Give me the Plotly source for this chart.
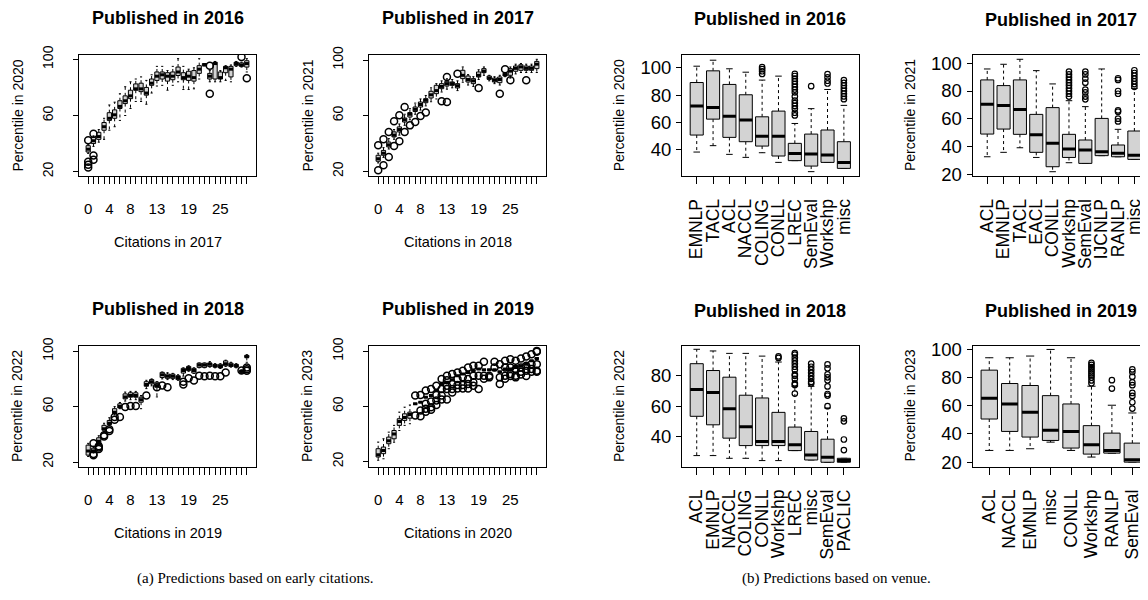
import plotly.graph_objects as go

# ---------------- data: (a) early citations ----------------
CIT_LEVELS = list(range(31))
CIT_SHOWN = [0, 4, 8, 13, 19, 25]

# Published 2016, citations in 2017 -> percentile 2020
C16_med = [36, 42, 45, 52, 58, 60.5, 66.5, 70.5, 74, 79, 79, 76, 83, 88, 89, 88, 88, 91, 87, 88, 87, 93, 96, 88, 97, 87, 94, 93, 97, 96, 97]
C16_q1 = [34, 40, 43, 49.5, 56.5, 58, 65, 68.5, 72, 78, 77, 74.5, 81.5, 85, 86, 84.5, 85.5, 88.5, 85.5, 85, 84.5, 90, 95.5, 86, 86, 86, 90.5, 87.5, 95.5, 95, 94.5]
C16_q3 = [38.5, 44.5, 48, 55, 62, 64, 70.5, 74, 78, 82.5, 83, 80, 86, 91, 91, 90.5, 91, 94.5, 90.5, 91.5, 92, 95.5, 97, 90, 98, 91, 95, 95, 98, 97.5, 99]
C16_lo = [33, 38, 41, 43, 49.5, 52, 56.5, 60, 65, 70, 70, 68, 76, 81, 81.5, 78, 81.5, 84, 78.5, 78.5, 79, 86, 95.5, 84, 84, 84, 85, 84, 95, 94.5, 91]
C16_hi = [39.5, 45.5, 50, 58, 67.5, 69.5, 75.5, 80.5, 84, 86, 87.5, 85, 89, 95, 95, 92, 95, 100.5, 95, 93, 94, 100.5, 97, 92, 98.5, 92, 95.5, 96, 98.5, 98, 100.5]
C16_out = [[42.3, 27, 25, 23], [47, 31.5, 28.5], [], [], [], [], [], [], [], [], [], [], [], [], [], [], [], [], [], [], [], [], [], [95.5, 75.5], [], [], [], [], [], [101.7], [86.5]]

# Published 2017, citations in 2018 -> percentile 2021
C17_med = [29, 33, 39, 46, 50, 57, 61, 64.5, 68, 71, 75, 78, 81, 83, 83, 81.5, 89, 86, 85, 89, 92, 87, 85.5, 86, 89.5, 92, 94, 95, 94, 94, 97]
C17_q1 = [27.2, 31.5, 37.5, 44.7, 48.3, 55.4, 59, 63, 66.2, 69.3, 72.7, 75.8, 79.4, 81.3, 81.8, 79.9, 86.6, 84.2, 83, 87.8, 90.9, 86.1, 84.2, 83.7, 88.5, 89, 91.9, 92.6, 92.6, 92.6, 93.8]
C17_q3 = [31.5, 35, 41, 48.3, 51.9, 58.3, 62.2, 66.2, 69.8, 72.2, 77.5, 81.8, 83, 84.7, 84.2, 83, 92.6, 88.5, 86.6, 91.4, 93.8, 88.5, 87, 87.8, 90.5, 93.8, 95.7, 96.6, 95.7, 95.7, 99]
C17_lo = [26, 30, 36, 43, 46, 53, 57, 61, 64, 67, 70, 72, 77, 79, 80, 78, 84, 82, 81, 86, 89, 85, 83, 82, 88, 87, 90, 91, 91, 91, 91]
C17_hi = [33, 37, 43.5, 50, 54, 61, 65, 69, 72, 74.5, 80, 83, 85, 86.5, 86, 85, 95, 89.5, 88, 93, 95, 89, 88, 89, 91, 95, 97, 97.5, 97, 97, 100.5]
C17_out = [[38.7, 20.7], [43, 24.3], [48.3, 30.3], [56, 38.2], [60.2, 41.6], [66.2, 48.3], [53], [55.4], [59.8], [62.2], [], [], [70.3], [69.8, 87.8], [], [90.2], [], [], [], [79.9], [], [], [], [75.8], [93.3], [85.4], [], [], [85.4], [], []]

# Published 2018, citations in 2019 -> percentile 2022
C18_med = [28, 28, 35, 44, 48, 56, 60, 67, 68, 68, 65, 76, 78, 75, 83, 82, 82, 81, 86, 87.5, 86, 90, 90, 90.5, 89.5, 89, 91, 90, 89.5, 85.5, 96]
C18_q1 = [25, 27, 33.5, 43, 47, 55, 59, 65.6, 66.8, 66.8, 63.2, 74.7, 76.4, 74, 81, 80.4, 80.4, 79.5, 84.2, 86, 84.2, 88.3, 88.3, 89, 88.5, 88, 89.5, 89, 88.5, 84.7, 95.5]
C18_q3 = [32.2, 30, 37.5, 46.5, 50, 58.5, 62, 69.2, 70, 70, 66.8, 78, 79.5, 77.6, 84.7, 83.5, 83.5, 82.3, 87.6, 89, 87.6, 91.4, 91.4, 91.5, 90.5, 90.5, 93, 91.4, 90.5, 86.2, 97]
C18_lo = [24, 26.5, 32, 41.5, 46, 54, 58.5, 64, 65, 65, 58.5, 73, 75, 67, 80, 79.5, 79.5, 79, 82, 85.5, 84, 88, 88, 88.5, 88, 87.5, 89, 88.5, 88, 84, 92]
C18_hi = [33.5, 31.5, 39, 48, 52, 60, 63, 70.5, 71, 71, 68, 79, 80, 78, 85, 84.5, 84, 83, 88, 89.5, 88, 91.5, 91.5, 92.5, 91, 91, 93.5, 92, 91, 86.5, 97.5]
C18_out = [[], [25, 25.8, 33.5], [30.5, 29.5, 31.5], [39.4, 38.5], [43.7, 42.5], [52.5, 50.5], [52.5], [59.7], [60.4], [60.4], [], [68], [], [74], [75.2], [74], [], [], [78, 76], [80.4], [78.8], [82.3], [81.9], [82.3], [82], [82], [84.7], [], [], [86], [88.3, 87, 85.8]]

# Published 2019, citations in 2020 -> percentile 2023
C19_med = [25, 28, 35, 40, 49, 52, 54, 61.8, 63, 66.6, 67.8, 71.4, 76.2, 77.4, 79.3, 82.2, 83.4, 84.6, 85.8, 87, 86.5, 86.5, 86.5, 85, 87, 87, 88.2, 89, 90.6, 93, 94.7]
C19_q1 = [23.3, 25.7, 32.9, 36.5, 46.2, 49.8, 51.4, 61.8, 63, 66.6, 67.8, 71.4, 76.2, 77.4, 79.3, 82.2, 83.4, 84.6, 85.8, 87, 86.5, 86.5, 86.5, 85, 87, 87, 88.2, 89, 90.6, 93, 94.7]
C19_q3 = [29.3, 30.5, 37.7, 42.5, 51, 54.6, 55.8, 61.8, 63, 66.6, 67.8, 71.4, 76.2, 77.4, 79.3, 82.2, 83.4, 84.6, 85.8, 87, 86.5, 86.5, 86.5, 85, 87, 87, 88.2, 89, 90.6, 93, 94.7]
C19_lo = [20.9, 22, 29.3, 34, 42.5, 46.2, 47.4, 61.8, 63, 66.6, 67.8, 71.4, 76.2, 77.4, 79.3, 82.2, 83.4, 84.6, 85.8, 87, 86.5, 86.5, 86.5, 85, 87, 87, 88.2, 89, 90.6, 93, 94.7]
C19_hi = [34.1, 36.5, 41.3, 46.2, 55.8, 59.4, 61, 61.8, 63, 66.6, 67.8, 71.4, 76.2, 77.4, 79.3, 82.2, 83.4, 84.6, 85.8, 87, 86.5, 86.5, 86.5, 85, 87, 87, 88.2, 89, 90.6, 93, 94.7]
C19_out = [[], [], [], [], [], [], [], [67.8, 53.4], [68.3, 57, 52.9], [71.4, 61.8, 58.2, 56], [72.6, 63.5, 59.4, 57.5], [75, 68.3, 64.2, 61],
           [79.8, 72.6, 67.8, 65], [79, 82.2, 75, 72.6, 65], [83.4, 76.2, 72.6, 70], [84.6, 79.8, 75.5, 73], [85.8, 81, 75.5, 73],
           [88.2, 79.8, 76.2, 73], [89.4, 82.2, 77.4, 75], [89.4, 82.2, 72.5], [92.3, 82.2, 80], [82.2, 81], [92.3, 88.2],
           [90.5, 81, 76.2], [93, 88.2, 82.2, 80], [94.2, 88.2, 83.4, 82], [93, 87, 82.2, 81], [94.7, 88.2, 85.1, 83],
           [96.2, 89.4, 85.8, 82], [97.8, 90.6, 87, 85], [100.2, 99.5, 90.6, 85.8, 85]]

# ---------------- data: (b) venue ----------------
V16_cat = ["EMNLP", "TACL", "ACL", "NACCL", "COLING", "CONLL", "LREC", "SemEval", "Workshp", "misc"]
V16_med = [71.9, 70.9, 64.5, 61.6, 49.8, 49.8, 37.1, 36.6, 35.9, 30.5]
V16_q1 = [50.6, 62.3, 48.9, 45.7, 42.5, 35.2, 31.8, 27.8, 30.5, 26.1]
V16_q3 = [89.2, 97.8, 87.8, 80.2, 64.0, 68.2, 44.5, 51.3, 54.3, 45.7]
V16_lo = [38.1, 42.8, 36.4, 34.2, 37.6, 30.5, 31.8, 23.7, 30.5, 26.1]
V16_hi = [101.2, 105.6, 99.3, 96.8, 91.0, 93.9, 59.1, 70.0, 84.1, 72.4]
V16_out = [[], [], [], [], [95.5, 97.5, 99, 100.5], [], [65, 67, 70, 72, 74, 76, 79, 82, 84, 86, 88, 90, 92, 94, 95.5],
           [86.5], [88.5, 90.5, 93, 95.4], [77, 79, 81, 83, 85, 87, 89, 91]]

V17_cat = ["ACL", "EMNLP", "TACL", "EACL", "CONLL", "Workshp", "SemEval", "IJCNLP", "RANLP", "misc"]
V17_med = [70.4, 69.6, 66.7, 48.4, 42.2, 38.1, 37.3, 36.1, 35.0, 33.5]
V17_q1 = [48.9, 52.5, 48.7, 35.7, 25.3, 32.0, 27.7, 33.3, 32.5, 30.6]
V17_q3 = [88.0, 83.9, 88.0, 63.1, 68.0, 48.7, 44.6, 60.2, 41.0, 51.1]
V17_lo = [32.5, 35.7, 39.0, 32.0, 21.7, 28.2, 27.7, 33.3, 32.5, 30.6]
V17_hi = [95.9, 99.3, 102.9, 94.7, 85.1, 73.0, 68.7, 95.9, 52.3, 81.9]
V17_out = [[], [], [], [], [], [76, 78, 80, 82, 84, 86, 88, 90, 92, 94], [74, 76, 79, 81, 86, 89, 92, 94], [],
           [58, 60, 65, 66, 78, 80, 88, 89.2], [83, 85, 87, 89, 91, 93, 95]]

V18_cat = ["ACL", "EMNLP", "NACCL", "COLING", "CONLL", "Workshp", "LREC", "misc", "SemEval", "PACLIC"]
V18_med = [70.9, 69.0, 58.3, 46.4, 36.7, 36.7, 34.5, 27.8, 26.3, 24.1]
V18_q1 = [53.3, 47.7, 38.9, 34.0, 34.0, 34.0, 30.7, 24.5, 23.0, 23.0]
V18_q3 = [88.0, 83.5, 79.1, 67.2, 65.4, 55.9, 46.2, 43.3, 38.2, 25.6]
V18_lo = [27.4, 27.4, 25.6, 25.6, 24.1, 24.1, 30.7, 24.5, 23.0, 23.0]
V18_hi = [97.5, 96.4, 94.8, 94.8, 93.0, 89.1, 73.1, 73.1, 58.8, 25.6]
V18_out = [[], [], [], [], [], [91.8, 92.8], [68.3, 74, 75, 78, 80, 81, 84, 86, 88, 90, 92, 94, 95],
           [75, 76, 78, 80, 82, 84, 86, 88], [60, 67, 68, 73, 77, 79, 81, 85, 87.5], [31, 38, 50, 52]]

V19_cat = ["ACL", "NACCL", "EMNLP", "misc", "CONLL", "Workshp", "RANLP", "SemEval"]
V19_med = [65.3, 61.3, 55.4, 42.6, 41.8, 32.3, 28.3, 21.7]
V19_q1 = [50.6, 41.8, 37.8, 35.4, 30.0, 25.7, 26.4, 20.0]
V19_q3 = [85.3, 75.8, 74.4, 67.2, 61.3, 45.9, 40.6, 33.5]
V19_lo = [28.3, 28.3, 29.5, 34.2, 28.3, 23.6, 26.4, 20.0]
V19_hi = [94.1, 94.1, 95.3, 100.0, 94.1, 73.9, 60.4, 54.9]
V19_out = [[], [], [], [], [], [76, 78, 80, 81.5, 83, 84.5, 86, 87.5, 89, 90.5], [72.2, 78.2],
           [58, 62.5, 67, 69.1, 74.6, 76.6, 80.7, 84, 85.8]]

TITLES = ["Published in 2016", "Published in 2017", "Published in 2018", "Published in 2019"]
CIT_YEARS = ["2017", "2018", "2019", "2020"]
PCT_YEARS = ["2020", "2021", "2022", "2023"]

# ---------------- layout helpers ----------------
# the page body has an 8px margin, so the figure is sized to fill the rest of the window
OFF = 8
W, H = 1148 - OFF, 600 - OFF
FONT = "Liberation Sans, Arial, sans-serif"


def fx(p):
    return (p - OFF) / W


def fy(p):
    return 1 - (p - OFF) / H


fig = go.Figure()


def add_boxes(k, pos, q1, med, q3, lo, hi, outs, half, msize, mlw):
    xa = "x" if k == 1 else f"x{k}"
    ya = "y" if k == 1 else f"y{k}"
    bx, by, mx, my, wx, wy, cx, cy, ox, oy = [], [], [], [], [], [], [], [], [], []
    for p, a, m, b, l, h, o in zip(pos, q1, med, q3, lo, hi, outs):
        bx += [p - half, p + half, p + half, p - half, p - half, None]
        by += [a, a, b, b, a, None]
        mx += [p - half, p + half, None]
        my += [m, m, None]
        if h > b:
            wx += [p, p, None]
            wy += [b, h, None]
        if l < a:
            wx += [p, p, None]
            wy += [a, l, None]
        cx += [p - half / 2, p + half / 2, None, p - half / 2, p + half / 2, None]
        cy += [h, h, None, l, l, None]
        for v in o:
            ox.append(p)
            oy.append(v)
    common = dict(xaxis=xa, yaxis=ya, showlegend=False, hoverinfo="skip")
    fig.add_trace(go.Scatter(x=wx, y=wy, mode="lines", line=dict(color="black", width=1, dash="3px,3px"), **common))
    fig.add_trace(go.Scatter(x=cx, y=cy, mode="lines", line=dict(color="black", width=1), **common))
    fig.add_trace(go.Scatter(x=bx, y=by, mode="lines", fill="toself", fillcolor="#D3D3D3",
                             line=dict(color="black", width=1), **common))
    fig.add_trace(go.Scatter(x=mx, y=my, mode="lines", line=dict(color="black", width=3), **common))
    fig.add_trace(go.Scatter(x=ox, y=oy, mode="markers",
                             marker=dict(symbol="circle-open", size=msize, color="black", line=dict(width=mlw)),
                             **common))


left_data = [
    (C16_q1, C16_med, C16_q3, C16_lo, C16_hi, C16_out),
    (C17_q1, C17_med, C17_q3, C17_lo, C17_hi, C17_out),
    (C18_q1, C18_med, C18_q3, C18_lo, C18_hi, C18_out),
    (C19_q1, C19_med, C19_q3, C19_lo, C19_hi, C19_out),
]
right_data = [
    (V16_cat, V16_q1, V16_med, V16_q3, V16_lo, V16_hi, V16_out),
    (V17_cat, V17_q1, V17_med, V17_q3, V17_lo, V17_hi, V17_out),
    (V18_cat, V18_q1, V18_med, V18_q3, V18_lo, V18_hi, V18_out),
    (V19_cat, V19_q1, V19_med, V19_q3, V19_lo, V19_hi, V19_out),
]

# frames in window pixels: (x0, x1, y0, y1)
left_frames = [(79, 256, 55, 176), (369, 546, 55, 176), (79, 256, 345.5, 466.5), (369, 546, 345.5, 466.5)]
left_yr = [[16.9, 103.1], [16.6, 103.6], [16.8, 104.1], [16.4, 104.1]]
right_frames = [(682, 858.5, 54.5, 176), (972.5, 1148, 55, 176), (682, 858.5, 345.5, 466.5), (972.5, 1148, 345.5, 466.5)]
right_yr = [[20.5, 109.8], [18.6, 106], [20.2, 100.0], [16.9, 102.8]]

layout = dict(width=W, height=H, autosize=False, margin=dict(l=0, r=0, t=0, b=0, autoexpand=False),
              plot_bgcolor="white", paper_bgcolor="white",
              font=dict(family=FONT, color="black", size=14))
annotations = []

axis_common = dict(showline=True, linecolor="black", linewidth=1, ticks="outside", tickcolor="black",
                   showgrid=False, zeroline=False, fixedrange=True, automargin=False)

n_left = len(CIT_LEVELS)
ext = 0.04 * n_left
for i, (d, fr) in enumerate(zip(left_data, left_frames)):
    k = i + 1
    q1, med, q3, lo, hi, outs = d
    add_boxes(k, CIT_LEVELS, q1, med, q3, lo, hi, outs, 0.4, 7, 1.5)
    xk = "xaxis" if k == 1 else f"xaxis{k}"
    yk = "yaxis" if k == 1 else f"yaxis{k}"
    layout[xk] = dict(axis_common, domain=[fx(fr[0]), fx(fr[1])], anchor="y" if k == 1 else f"y{k}",
                      range=[CIT_LEVELS[0] - 0.5 - ext, CIT_LEVELS[-1] + 0.5 + ext], mirror=True,
                      tickvals=CIT_LEVELS, ticktext=[str(c) if c in CIT_SHOWN else "" for c in CIT_LEVELS],
                      ticklen=7, tickfont=dict(size=15), ticklabelstandoff=12)
    layout[yk] = dict(axis_common, domain=[fy(fr[3]), fy(fr[2])], anchor="x" if k == 1 else f"x{k}",
                      range=left_yr[i], mirror=True, tickvals=[20, 60, 100], tickangle=-90,
                      ticklen=5, tickfont=dict(size=14), ticklabelstandoff=14)
    cxp = (fr[0] + fr[1]) / 2
    cyp = (fr[2] + fr[3]) / 2
    annotations.append(dict(text="<b>" + TITLES[i] + "</b>", x=fx(cxp), y=fy(fr[2] - 37), xref="paper", yref="paper",
                            showarrow=False, font=dict(size=18), xanchor="center", yanchor="middle"))
    annotations.append(dict(text="Citations in " + CIT_YEARS[i], x=fx(cxp), y=fy(fr[3] + 66), xref="paper",
                            yref="paper", showarrow=False, font=dict(size=14.5), xanchor="center", yanchor="middle"))
    annotations.append(dict(text="Percentile in " + PCT_YEARS[i], x=fx(fr[0] - 62), y=fy(cyp), xref="paper",
                            yref="paper", showarrow=False, font=dict(size=14), textangle=-90,
                            xanchor="center", yanchor="middle"))

for i, (d, fr) in enumerate(zip(right_data, right_frames)):
    k = i + 5
    cats, q1, med, q3, lo, hi, outs = d
    n = len(cats)
    pos = list(range(1, n + 1))
    add_boxes(k, pos, q1, med, q3, lo, hi, outs, 0.4, 5.5, 1.2)
    ppu = (176.6) / (n * 1.08)
    x0 = 0.5 - 0.04 * n
    x1 = x0 + (fr[1] - fr[0]) / ppu
    layout[f"xaxis{k}"] = dict(axis_common, domain=[fx(fr[0]), fx(fr[1])], anchor=f"y{k}", range=[x0, x1],
                               mirror=True, tickvals=pos, ticktext=cats, tickangle=-90, ticklen=7,
                               tickfont=dict(size=17.5), ticklabelstandoff=8)
    yt = [40, 60, 80] if i == 2 else [20, 40, 60, 80, 100]
    layout[f"yaxis{k}"] = dict(axis_common, domain=[fy(fr[3]), fy(fr[2])], anchor=f"x{k}", range=right_yr[i],
                               mirror=(i % 2 == 0), tickvals=yt, ticklen=5, tickfont=dict(size=18.5),
                               ticklabelstandoff=1)
    cxp = (fr[0] + fr[0] + 176.6) / 2
    cyp = (fr[2] + fr[3]) / 2
    annotations.append(dict(text="<b>" + TITLES[i] + "</b>", x=fx(cxp), y=fy(fr[2] - 35), xref="paper", yref="paper",
                            showarrow=False, font=dict(size=18), xanchor="center", yanchor="middle"))
    annotations.append(dict(text="Percentile in " + PCT_YEARS[i], x=fx(fr[0] - 63), y=fy(cyp), xref="paper",
                            yref="paper", showarrow=False, font=dict(size=14), textangle=-90,
                            xanchor="center", yanchor="middle"))

annotations.append(dict(text="(a) Predictions based on early citations.", x=fx(255), y=fy(578), xref="paper",
                        yref="paper", showarrow=False, font=dict(size=15, family="Liberation Serif, Times New Roman, serif"),
                        xanchor="center", yanchor="middle"))
annotations.append(dict(text="(b) Predictions based on venue.", x=fx(836), y=fy(578), xref="paper",
                        yref="paper", showarrow=False, font=dict(size=15, family="Liberation Serif, Times New Roman, serif"),
                        xanchor="center", yanchor="middle"))
layout["annotations"] = annotations
fig.update_layout(**layout)
fig.write_html("out.html")
